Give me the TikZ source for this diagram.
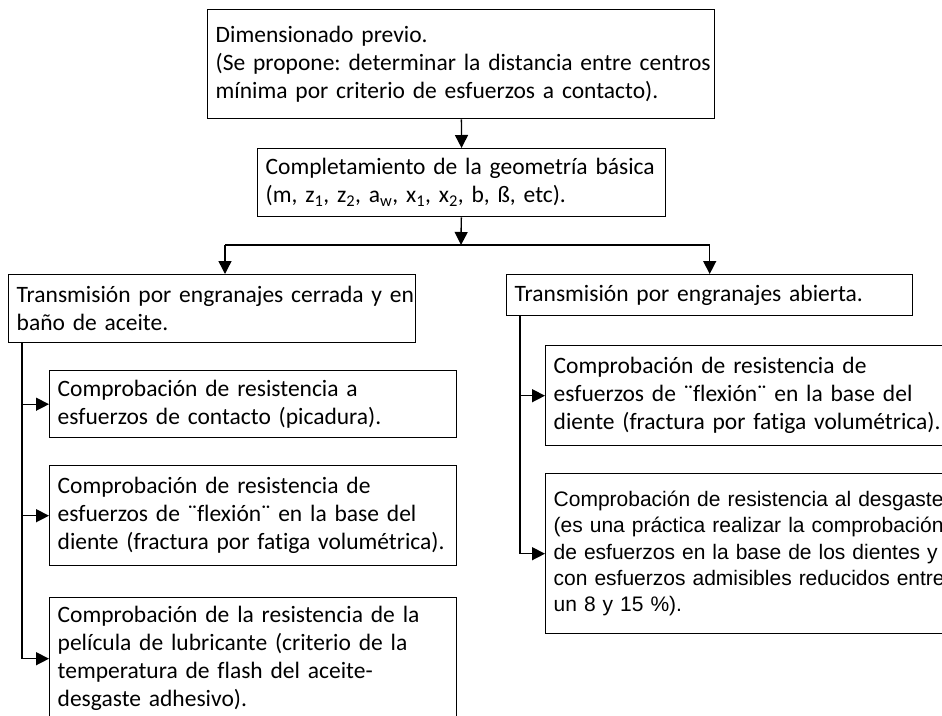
\documentclass[tikz,border=0pt]{standalone}
\usepackage{fontspec}
\setmainfont{Carlito}[Ligatures=NoCommon]
\newfontfamily\arialfont{Liberation Sans}
\usetikzlibrary{calc,arrows.meta}
\frenchspacing

\tikzset{
  box/.style={draw, line width=1.4pt, anchor=north west, inner xsep=8pt, inner ysep=0pt, align=left,
    font=\fontsize{23.5}{28}\selectfont,
    execute at begin node={\rightskip=0pt plus 1fil minus 40pt}},
  arr/.style={-{Triangle[length=13pt,width=13pt]}, line width=1.4pt},
}
\newcommand{\dq}{\symbol{"00A8}}

\begin{document}
\begin{tikzpicture}[x=1pt,y=-1pt]
\useasboundingbox (0,0) rectangle (942,715);
\clip (0,0) rectangle (942,715);
% upper part
\node [box, minimum width=507pt, minimum height=109pt, text width=491pt] (dim) at (207,9)
  {Dimensionado previo.\\(Se propone: determinar la distancia entre centros\\m\'inima por criterio de esfuerzos a contacto).};
\node [box, minimum width=408pt, minimum height=68pt, text width=392pt] (geo) at (257,148)
  {Completamiento de la geometr\'ia b\'asica\\(m, z\textsubscript{1}, z\textsubscript{2}, a\textsubscript{w}, x\textsubscript{1}, x\textsubscript{2}, b, \ss, etc).};
\draw [arr] (dim) -- (geo);
\coordinate (jn) at (461,245);
\draw [arr] (geo) -- (jn);
% the two kinds of transmission
\node [box, minimum width=407pt, minimum height=68pt, text width=391pt] (tc) at (8,274)
  {Transmisi\'on por engranajes cerrada y en\\ba\~no de aceite.};
\node [box, minimum width=406pt, minimum height=41pt, text width=390pt] (ta) at (506,274)
  {Transmisi\'on por engranajes abierta.};
\coordinate (jl) at (225,245);
\coordinate (jr) at (ta.north |- jn);
\draw [line width=1.4pt] (jl) -- (jr);
\draw [arr] (jl) -- (jl |- tc.north);
\draw [arr] (jr) -- (ta.north);
% closed transmission checks
\node [box, minimum width=407pt, minimum height=67pt, text width=391pt] (ca) at (49,370)
  {Comprobaci\'on de resistencia a\\esfuerzos de contacto (picadura).};
\node [box, minimum width=407pt, minimum height=100pt, text width=391pt] (cb) at (49,465)
  {Comprobaci\'on de resistencia de\\esfuerzos de \dq flexi\'on\dq{} en la base del\\diente (fractura por fatiga volum\'etrica).};
\node [box, minimum width=407pt, minimum height=122pt, text width=391pt] (cc) at (49,597)
  {Comprobaci\'on de la resistencia de la\\pel\'icula de lubricante (criterio de la\\temperatura de flash del aceite-\\desgaste adhesivo).};
\coordinate (sl) at ($(tc.south west)+(14,0)$);
\draw [arr] (sl) |- (ca.west);
\draw [arr] (sl) |- (cb.west);
\draw [arr] (sl) |- (cc.west);
% open transmission checks
\node [box, minimum width=430pt, minimum height=100pt, text width=414pt] (oa) at (545,345)
  {Comprobaci\'on de resistencia de\\esfuerzos de \dq flexi\'on\dq{} en la base del\\diente (fractura por fatiga volum\'etrica).};
\node [box, minimum width=430pt, minimum height=160pt, text width=414pt,
  font=\arialfont\fontsize{21}{26.3}\selectfont] (ob) at (545,473)
  {Comprobaci\'on de resistencia al desgaste\\(es una pr\'actica realizar la comprobaci\'on\\de esfuerzos en la base de los dientes y\\con esfuerzos admisibles reducidos entre\\un 8 y 15~\%).};
\coordinate (sr) at ($(ta.south west)+(14,0)$);
\draw [arr] (sr) |- (oa.west);
\draw [arr] (sr) |- (ob.west);
\end{tikzpicture}
\end{document}
